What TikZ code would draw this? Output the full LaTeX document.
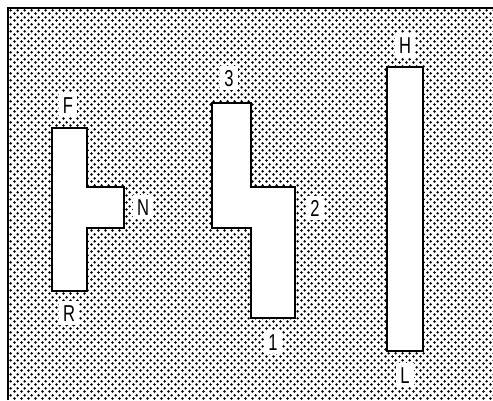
\documentclass[tikz,border=0pt]{standalone}
\usepackage{fontspec}
\setmainfont[FakeStretch=0.72]{Liberation Sans}
\usetikzlibrary{patterns}
\pgfdeclarepatternformonly{halftone}{\pgfpointorigin}{\pgfpoint{6.6pt}{6.6pt}}{\pgfpoint{6.6pt}{6.6pt}}{%
  \pgfpathcircle{\pgfpoint{1.65pt}{1.65pt}}{1.45pt}%
  \pgfpathcircle{\pgfpoint{4.95pt}{4.95pt}}{1.45pt}%
  \pgfusepath{fill}}
\tikzset{
  shapebox/.style={draw=black, fill=white, line width=1.8pt, line join=miter},
  lbl/.style={fill=white, inner xsep=4pt, inner ysep=4pt, font=\fontsize{23}{23}\selectfont, text height=16pt, text depth=0pt}
}
\begin{document}
\begin{tikzpicture}[x=1pt, y=-1pt]
\useasboundingbox (0,0) rectangle (493,400);
\fill[white] (0,0) rectangle (493,400);
% dotted background
\fill[pattern=halftone, pattern color=black] (8,8) rectangle (493,400);
\draw[line width=2pt] (8,400) -- (8,8) -- (493,8);
% T-shaped gate (F / N / R)
\draw[shapebox] (52,128) -- (87,128) -- (87,187) -- (124,187) -- (124,228) -- (87,228) -- (87,291) -- (52,291) -- cycle;
% stepped gate (3 / 2 / 1)
\draw[shapebox] (212,103) -- (251,103) -- (251,187) -- (295,187) -- (295,318) -- (251,318) -- (251,228) -- (212,228) -- cycle;
% straight gate (H / L)
\draw[shapebox] (387,67) rectangle (423,351);
% labels
\node[lbl] (F) at (68,105) {F};
\node[lbl] (R) at (69,313) {R};
\node[lbl] (N) at (143,207) {N};
\node[lbl] (three) at (229,78) {3};
\node[lbl] (two) at (315,208) {2};
\node[lbl] (one) at (273,342) {1};
\node[lbl] (H) at (405,45) {H};
\node[lbl] (L) at (405,375) {L};
\end{tikzpicture}
\end{document}
